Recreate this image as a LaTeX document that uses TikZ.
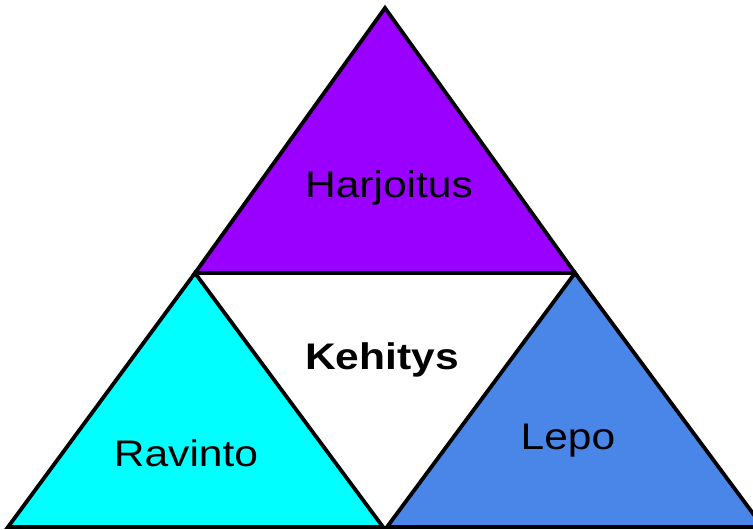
\documentclass[tikz,border=0pt]{standalone}
\usepackage{fontspec}
\setmainfont{Liberation Sans}[FakeStretch=1.15]
\definecolor{harjoituspurple}{RGB}{153, 0, 255}
\definecolor{ravintocyan}{RGB}{0, 255, 255}
\definecolor{lepoblue}{RGB}{74, 134, 232}
\usetikzlibrary{positioning}

\begin{document}
\begin{tikzpicture}[x=1pt, y=-1pt, line width=3.8pt, line join=miter,
    every node/.style={font=\fontsize{37}{42}\selectfont, anchor=base}]
        \useasboundingbox (0,0) rectangle (753,530);
        % Top triangle (training)
        \draw[fill=harjoituspurple] (385,8) -- (195,273) -- (575,273) -- cycle;
        \node (harjoitus) at (389,197) {Harjoitus};
        % Bottom left triangle (nutrition)
        \draw[fill=ravintocyan] (195,273) -- (8,527) -- (383,527) -- cycle;
        \node (ravinto) at (186,466) {Ravinto};
        % Bottom right triangle (rest)
        \draw[fill=lepoblue] (575,273) -- (387,527) -- (763,527) -- cycle;
        \node (lepo) at (568,449) {Lepo};
        % Centre
        \node[font=\fontsize{37}{42}\selectfont\bfseries] (kehitys) at (382,369) {Kehitys};
      \end{tikzpicture}
\end{document}
